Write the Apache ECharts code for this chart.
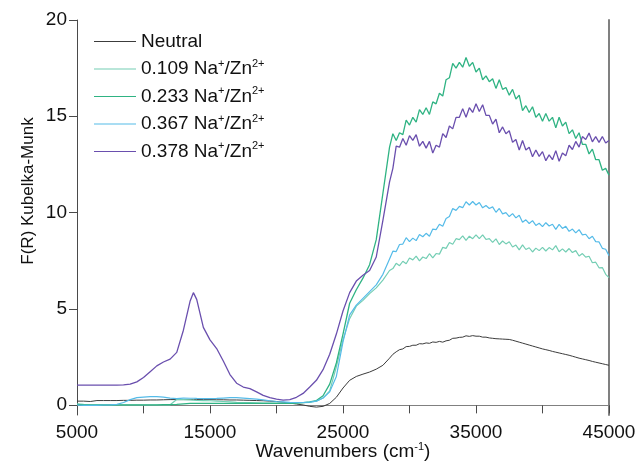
<!DOCTYPE html>
<html>
<head>
<meta charset="utf-8">
<script src="https://cdn.jsdelivr.net/npm/echarts@6/dist/echarts.min.js"></script>
<style>html,body{margin:0;padding:0;background:#fff}#c{width:638px;height:463px}</style>
</head>
<body>
<div id="c"></div>
<script>
// Wavenumbers (cm-1)
const xs = [5000,5500,6000,6500,7000,7500,8000,8500,9000,9500,10000,10500,11000,11500,12000,12500,13000,13500,13750,14000,14500,15000,15500,16000,16500,17000,17500,18000,18500,19000,19500,20000,20500,21000,21500,22000,22500,23000,23500,24000,24500,25000,25500,26000,26500,27000,27500,28000,28500,
28750,29000,29250,29500,29750,30000,30250,30500,30750,31000,31250,31500,31750,32000,32250,32500,32750,33000,33250,33500,33750,34000,34250,34500,34750,35000,35250,35500,35750,36000,36250,36500,36750,37000,37250,37500,37750,38000,38250,38500,38750,39000,39250,39500,39750,40000,40250,40500,40750,41000,41250,41500,41750,42000,42250,42500,42750,43000,43250,43500,43750,44000,44250,44500,44750,45000];

const neutral = [0.22,0.22,0.2,0.25,0.25,0.25,0.25,0.26,0.26,0.27,0.27,0.28,0.28,0.29,0.3,0.3,0.3,0.3,0.3,0.3,0.3,0.3,0.29,0.29,0.28,0.28,0.27,0.26,0.25,0.24,0.22,0.2,0.16,0.12,0.07,0.02,-0.05,-0.09,-0.05,0.1,0.42,0.9,1.3,1.5,1.62,1.73,1.88,2.08,2.45,
2.65,2.78,2.89,2.93,3.05,3.06,3.12,3.12,3.2,3.19,3.24,3.22,3.29,3.27,3.32,3.28,3.35,3.38,3.48,3.49,3.53,3.54,3.61,3.58,3.62,3.59,3.59,3.54,3.54,3.5,3.48,3.46,3.45,3.44,3.43,3.42,3.38,3.33,3.28,3.23,3.18,3.13,3.08,3.03,2.98,2.93,2.89,2.85,2.8,2.76,2.72,2.68,2.64,2.6,2.55,2.5,2.45,2.41,2.37,2.33,2.28,2.24,2.2,2.16,2.12,2.08];

const na0109 = [0.08,0.05,0.03,0.02,0.02,0.02,0.02,0.02,0.02,0.02,0.02,0.02,0.02,0.02,0.03,0.3,0.3,0.28,0.27,0.26,0.25,0.24,0.22,0.2,0.18,0.16,0.15,0.14,0.13,0.12,0.12,0.12,0.12,0.12,0.13,0.14,0.16,0.22,0.38,0.75,2.0,3.4,4.5,5.15,5.45,5.8,6.1,6.5,7.0,
7.1,7.37,7.25,7.48,7.35,7.65,7.55,7.75,7.5,7.7,7.62,7.87,7.65,7.88,7.85,8.2,8.15,8.45,8.36,8.65,8.6,8.8,8.56,8.78,8.65,8.85,8.65,8.85,8.61,8.65,8.46,8.64,8.35,8.53,8.38,8.49,8.22,8.32,8.07,8.33,8.09,8.18,7.96,8.16,8.03,8.2,8.01,8.19,8.07,8.29,7.97,8.12,7.96,8.14,7.93,8.03,7.75,7.88,7.69,7.74,7.4,7.43,7.14,7.15,6.8,6.63];

const na0233 = [0.05,0.03,0.03,0.03,0.03,0.03,0.03,0.03,0.03,0.03,0.03,0.03,0.03,0.04,0.04,0.05,0.08,0.1,0.1,0.1,0.1,0.1,0.1,0.1,0.1,0.1,0.1,0.1,0.1,0.1,0.1,0.1,0.1,0.11,0.12,0.14,0.18,0.25,0.5,1.1,2.2,3.7,5.3,6.0,6.6,7.3,8.6,11.0,13.4,
14.1,13.75,14.15,14.05,14.8,14.55,14.95,14.7,15.35,15.1,15.45,15.1,15.75,15.65,16.2,16.05,16.9,17.0,17.75,17.5,17.8,17.55,18.05,17.6,17.8,17.3,17.5,16.9,17.1,16.8,16.95,16.45,16.9,16.4,16.5,16.1,16.4,15.9,16.1,15.3,15.55,15.2,15.5,14.95,15.15,14.75,15.15,14.75,14.95,14.4,14.95,14.5,14.7,14.1,14.3,13.85,14.15,13.55,13.55,13.05,13.3,12.75,12.75,12.2,12.3,11.95];

const na0367 = [0.02,0.0,0.0,0.0,0.02,0.03,0.05,0.15,0.3,0.4,0.43,0.45,0.45,0.43,0.38,0.35,0.38,0.37,0.37,0.36,0.35,0.35,0.36,0.38,0.4,0.4,0.38,0.35,0.32,0.28,0.24,0.2,0.18,0.16,0.15,0.15,0.17,0.22,0.38,0.7,1.5,3.3,4.7,5.2,5.55,5.9,6.25,6.8,7.6,
8.0,7.98,8.35,8.37,8.7,8.5,8.68,8.55,8.87,8.75,8.93,8.78,9.15,9.12,9.4,9.3,9.7,9.8,10.22,10.12,10.33,10.26,10.57,10.4,10.58,10.4,10.53,10.25,10.37,10.22,10.3,10.02,10.22,9.94,10.0,9.8,9.95,9.73,9.87,9.5,9.63,9.44,9.59,9.34,9.45,9.28,9.48,9.31,9.4,9.13,9.39,9.18,9.29,9.03,9.15,8.95,9.12,8.85,8.88,8.65,8.78,8.5,8.48,8.15,8.1,7.77];

const na0378 = [1.05,1.05,1.05,1.05,1.05,1.05,1.05,1.06,1.1,1.22,1.45,1.75,2.05,2.25,2.4,2.75,3.9,5.4,5.85,5.5,4.05,3.4,2.95,2.3,1.6,1.15,0.95,0.87,0.7,0.52,0.4,0.32,0.27,0.3,0.42,0.62,0.95,1.3,1.85,2.65,3.7,4.9,5.85,6.45,6.75,7.0,7.7,9.6,11.6,
12.3,13.45,13.4,13.85,13.5,14.0,13.75,14.05,13.45,13.7,13.35,13.7,13.1,13.5,13.4,14.1,13.9,14.5,14.35,14.95,14.95,15.4,14.95,15.45,15.2,15.65,15.25,15.6,15.05,15.05,14.6,14.85,14.15,14.45,14.1,14.25,13.65,13.8,13.25,13.75,13.25,13.4,12.9,13.25,12.92,13.17,12.7,13.0,12.75,13.22,12.67,13.1,12.95,13.5,13.28,13.7,13.4,13.95,13.8,14.13,13.68,13.95,13.65,13.95,13.62,13.75];

const seriesNames = ['Neutral','0.109','0.233','0.367','0.378'];
const seriesValues = [neutral, na0109, na0233, na0367, na0378];
const seriesColors = ['#3c3c3c','#74ceb4','#2fb383','#55bbe8','#6a4fae'];
const seriesWidths = [1, 1.2, 1.3, 1.2, 1.3];

const FONT = "'Liberation Sans', Arial, sans-serif";
const AX = '#4a4a4a';
const FS = 19;

const chart = echarts.init(document.getElementById('c'), null, {renderer:'canvas'});

const series = seriesNames.map((n, k) => ({
  name: n,
  type: 'line',
  xAxisIndex: 0, yAxisIndex: 0,
  symbol: 'none',
  showSymbol: false,
  animation: false,
  lineStyle: {width: seriesWidths[k], color: seriesColors[k]},
  itemStyle: {color: seriesColors[k]},
  data: xs.map((x, i) => [x, seriesValues[k][i]])
}));

const supRich = {
  a: {fontSize: FS, lineHeight: 22, color: '#111', fontFamily: FONT},
  s: {fontSize: 11, lineHeight: 11, verticalAlign: 'top', color: '#111', fontFamily: FONT}
};

chart.setOption({
  animation: false,
  backgroundColor: '#ffffff',
  textStyle: {fontFamily: FONT},
  grid: [
    {left: 77, right: 29, top: 20, bottom: 48, containLabel: false, outerBoundsMode: 'none'},
    {left: 77, right: 29, top: 20, bottom: 58, containLabel: false, outerBoundsMode: 'none'}
  ],
  legend: {
    orient: 'vertical',
    left: 89, top: 27,
    itemWidth: 42, itemHeight: 1, itemGap: 7,
    icon: 'rect',
    data: seriesNames,
    formatter: function (n) {
      if (n === 'Neutral') return '{a|Neutral}';
      return '{a|' + n + ' Na}{s|+}{a|/Zn}{s|2+}';
    },
    textStyle: {color: '#111', fontFamily: FONT, rich: supRich}
  },
  xAxis: [
    {
      gridIndex: 0, type: 'value', min: 5000, max: 45000, interval: 5000, position: 'bottom',
      axisLine: {show: true, lineStyle: {color: AX, width: 1}},
      axisTick: {show: true, inside: false, length: 8, lineStyle: {color: AX}},
      axisLabel: {
        color: '#111', fontSize: FS, fontFamily: FONT, margin: 8,
        formatter: v => ((v - 5000) % 10000 === 0 ? String(v) : '')
      },
      splitLine: {show: false}
    },
    {
      gridIndex: 0, type: 'value', min: 5000, max: 45000, position: 'top',
      axisLine: {show: true, lineStyle: {color: '#808080', width: 1}},
      axisTick: {show: false}, axisLabel: {show: false}, splitLine: {show: false}
    },
    {gridIndex: 1, type: 'value', min: 5000, max: 45000, show: false}
  ],
  yAxis: [
    {
      gridIndex: 0, type: 'value', min: -0.5, max: 20, position: 'left',
      axisLine: {show: true, lineStyle: {color: AX, width: 1}},
      axisTick: {show: false}, axisLabel: {show: false}, splitLine: {show: false}
    },
    {
      gridIndex: 0, type: 'value', min: -0.5, max: 20, position: 'right',
      axisLine: {show: true, lineStyle: {color: '#808080', width: 2}},
      axisTick: {show: false}, axisLabel: {show: false}, splitLine: {show: false}
    },
    {
      gridIndex: 1, type: 'value', min: 0, max: 20, interval: 5, position: 'left',
      axisLine: {show: false},
      axisTick: {show: true, inside: false, length: 8, lineStyle: {color: AX}},
      axisLabel: {color: '#111', fontSize: FS, fontFamily: FONT, margin: 10},
      splitLine: {show: false}
    }
  ],
  graphic: [
    {
      type: 'text',
      x: 28, y: 191,
      rotation: Math.PI / 2,
      style: {text: 'F(R) Kubelka-Munk', fontSize: 17, fontFamily: FONT, fill: '#111', align: 'center', verticalAlign: 'middle'}
    },
    {
      type: 'text',
      x: 343, y: 452,
      style: {text: '{a|Wavenumbers (cm}{s|-1}{a|)}', rich: supRich, fontFamily: FONT, fill: '#111', align: 'center', verticalAlign: 'middle'}
    }
  ],
  series: series
});
</script>
</body>
</html>
